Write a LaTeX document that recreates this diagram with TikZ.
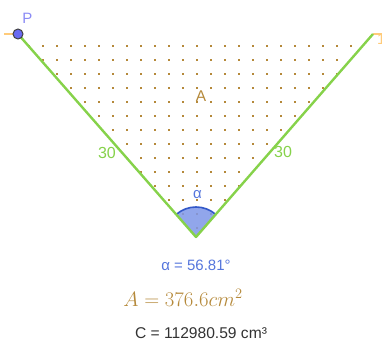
\documentclass[tikz,border=0pt]{standalone}
\usepackage{fontspec}
\setsansfont{Liberation Sans}
\definecolor{linegreen}{HTML}{86D24A}
\definecolor{dotbrown}{HTML}{B5893A}
\definecolor{angblue}{HTML}{5676DC}
\definecolor{angfill}{HTML}{7E96E8}
\definecolor{angline}{HTML}{3358C8}
\definecolor{segorange}{HTML}{FFCB7A}
\definecolor{ptfill}{HTML}{6A6AF2}
\definecolor{ptlabel}{HTML}{8A8AF5}
\definecolor{ctext}{HTML}{333333}
\begin{document}
\begin{tikzpicture}[x=1pt,y=-1pt,
  seg/.style={line width=2.4pt,linecolor},
  lbl/.style={font=\sffamily\fontsize{15}{15}\selectfont,inner sep=0pt},
]
\tikzset{linecolor/.style={draw=linegreen}}
\useasboundingbox (0,0) rectangle (382,345);
\coordinate (P) at (18,34);
\coordinate (Q) at (373,34);
\coordinate (O) at (196,237);
% dots
\begin{scope}
\clip (P) -- (O) -- (Q) -- cycle;
\foreach \i in {0,...,25}{
  \foreach \j in {0,...,14}{
    \fill[dotbrown] ({29.3+14*\i-0.9},{46.3+14*\j-0.9}) rectangle ++(1.8,1.8);
  }
}
\end{scope}
% angle wedge
\fill[angfill,opacity=0.85] (O) -- ++(-131.2:30) arc[start angle=-131.2,end angle=-48.9,radius=30] -- cycle;
\draw[angline,line width=1.6pt] (O) ++(-131.2:30) arc[start angle=-131.2,end angle=-48.9,radius=30];
% orange segments
\coordinate (Pl) at (4,34);
\coordinate (Qr) at (382,34);
\draw[segorange,line width=1.8pt] (Pl) -- (P);
\draw[segorange,line width=1.8pt] (Q) -- (Qr);
% green lines
\draw[seg,line join=round] (P) -- (O) -- (Q);
% point P
\node[circle,fill=ptfill,draw=black!75,line width=1pt,minimum size=10pt,inner sep=0pt] (Pt) at (P) {};
\node[lbl,text=ptlabel] (Plab) at (27.5,18.5) {P};
\node[lbl,text=segorange,anchor=west] (Qlab) at (377,39) {1};
% labels
\node[lbl,text=dotbrown,font=\sffamily\fontsize{15.5}{15.5}\selectfont] (Alab) at (201,96) {A};
\node[lbl,text=linegreen,font=\sffamily\fontsize{16}{16}\selectfont] (s1) at (107,152.5) {30};
\node[lbl,text=linegreen,font=\sffamily\fontsize{16}{16}\selectfont] (s2) at (283,151.5) {30};
\node[lbl,text=angblue] (alab) at (197.5,195) {α};
% bottom texts
\node[inner sep=0pt,text=angblue,font=\sffamily\fontsize{15}{15}\selectfont] (t1) at (196,265) {α = 56.81°};
\node[inner sep=0pt,text=dotbrown,font=\fontsize{19.8}{19.8}\selectfont] (t2) at (183,298) {$A=376.6cm^2$};
\node[inner sep=0pt,text=ctext,font=\sffamily\fontsize{15.6}{15.6}\selectfont] (t3) at (201,333) {C = 112980.59 cm³};
\end{tikzpicture}
\end{document}
